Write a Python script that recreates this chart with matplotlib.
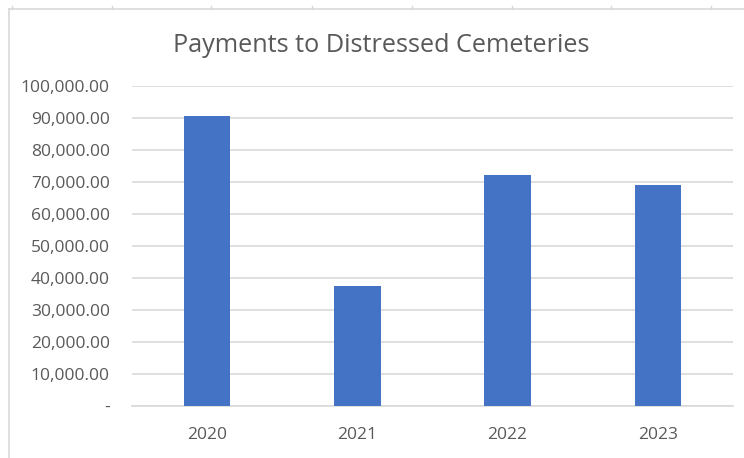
import matplotlib.pyplot as plt
from matplotlib.lines import Line2D
from matplotlib.ticker import FuncFormatter

years = ['2020', '2021', '2022', '2023']
payments = [90500, 37500, 72200, 69000]
y_ticks = list(range(0, 100001, 10000))

W, H = 744, 458
fig = plt.figure(figsize=(W / 100, H / 100), dpi=100)
fig.patch.set_facecolor('white')

ax = fig.add_axes([132 / W, 1 - 406 / H, 601 / W, 320 / H])
x = range(len(years))
ax.bar(x, payments, width=0.31, color='#4472C4', zorder=3)

ax.set_xlim(-0.5, len(years) - 0.5)
ax.set_ylim(0, 100000)
ax.set_yticks(y_ticks)


def fmt(v, pos):
    if v == 0:
        return '-'
    return f'{v:,.2f}'


ax.yaxis.set_major_formatter(FuncFormatter(fmt))
ax.set_xticks(list(x))
ax.set_xticklabels(years)

ax.grid(axis='y', color='#d9d9d9', linewidth=1.2, zorder=0)
for s in ['top', 'right', 'left']:
    ax.spines[s].set_visible(False)
ax.spines['bottom'].set_color('#d9d9d9')
ax.spines['bottom'].set_linewidth(1.2)
ax.tick_params(axis='both', length=0, labelsize=12.5, labelcolor='#595959')
ax.tick_params(axis='y', pad=16)
ax.tick_params(axis='x', pad=15)
for lab in ax.get_yticklabels() + ax.get_xticklabels():
    lab.set_family('Open Sans')

fig.text(381 / W, 1 - 45 / H, 'Payments to Distressed Cemeteries',
         ha='center', va='center', fontsize=18.2, color='#595959',
         family='Open Sans')

# chart border and the sheet cell ticks above it
border = '#d9d9d9'
fig.add_artist(Line2D([9 / W, 9 / W], [0, 1 - 9 / H], transform=fig.transFigure,
                      color=border, linewidth=1.2))
fig.add_artist(Line2D([9 / W, 1], [1 - 9 / H, 1 - 9 / H], transform=fig.transFigure,
                      color=border, linewidth=1.2))
for tx in [12, 112, 211, 312, 412, 512, 611, 711]:
    fig.add_artist(Line2D([tx / W, tx / W], [1 - 6 / H, 1 - 9 / H],
                          transform=fig.transFigure, color=border, linewidth=1))

fig.savefig('out.png', dpi=100)
